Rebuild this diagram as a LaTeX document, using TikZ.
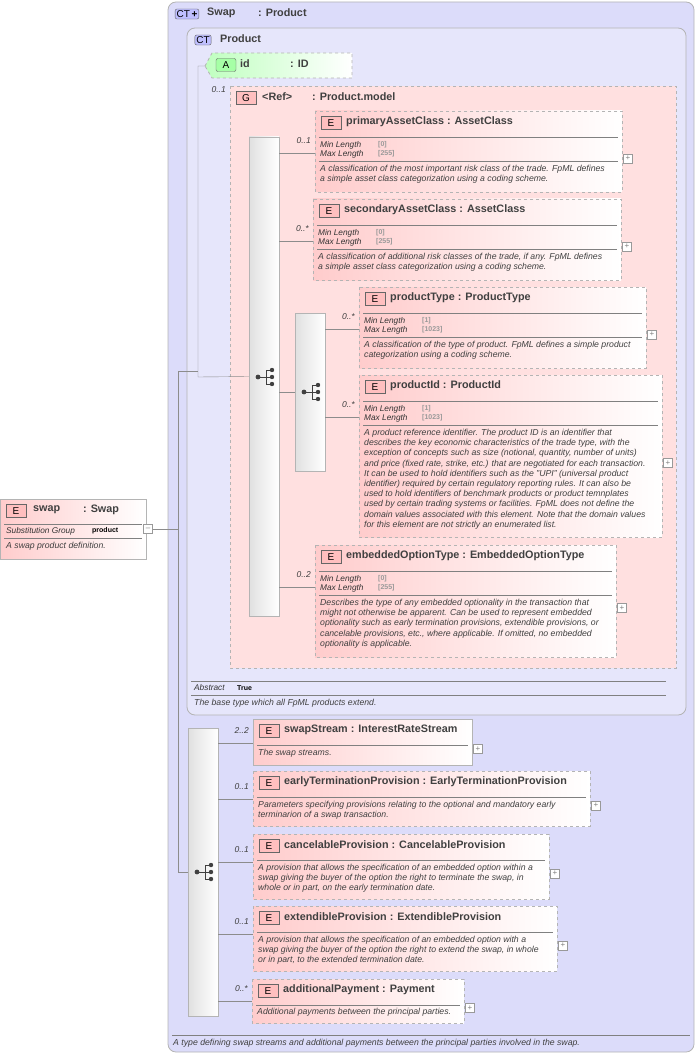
\documentclass[tikz,border=0pt]{standalone}
\usepackage{fontspec}
\setmainfont{Liberation Sans}
\usetikzlibrary{positioning,calc}

\definecolor{ctfill}{HTML}{DCDCFA}
\definecolor{grpfill}{HTML}{FFE0E0}
\definecolor{boxline}{HTML}{B4B4B4}
\definecolor{txtgrey}{HTML}{404040}

\tikzset{
  elem box/.style={draw=boxline,thick,left color=red!20,right color=white},
  badge/.style={draw=black!60,fill=red!25,minimum width=20pt,minimum height=13pt,
    inner sep=0pt,font=\fontsize{10}{10}\selectfont},
  title/.style={anchor=west,inner sep=0pt,font=\bfseries\fontsize{10.8}{11}\selectfont,text=txtgrey},
  prop/.style={anchor=west,inner sep=0pt,font=\itshape\fontsize{8.3}{9}\selectfont,text=black!80},
  val/.style={anchor=west,inner sep=0pt,font=\bfseries\fontsize{7}{7}\selectfont,text=black!40},
  desc/.style={anchor=north west,inner sep=0pt,align=left,
    font=\itshape\fontsize{8.7}{10.2}\selectfont,text=txtgrey},
  mult/.style={anchor=east,inner sep=0pt,font=\itshape\fontsize{8.5}{9}\selectfont,text=txtgrey},
  sep/.style={draw=black!50},
  conn/.style={draw=black!45},
  plus/.style={draw=black!40,fill=white,minimum size=9pt,inner sep=0pt,
    font=\fontsize{8}{8}\selectfont,text=black!50},
  seq bar/.style={draw=boxline,left color=black!12,right color=white,inner sep=0pt},
  ct badge/.style={draw=black!60,fill=blue!25,rounded corners=2pt,inner sep=1.5pt,
    font=\fontsize{10}{10}\selectfont},
}

% element box: name, left, top, right, bottom, title
\newcommand{\elem}[7][dashed]{
  \path[elem box,#1] (#3,#4) rectangle (#5,#6);
  \node[badge] (#2-e) at (#3+16,#4+12) {E};
  \node[title] (#2) at (#3+31,#4+11) {#7};
  \draw[sep] (#3+4,#4+26) -- (#5-4,#4+26);
  \node[plus] (#2-p) at (#5+6,{(#4+#6)/2+7}) {+};
  \coordinate (#2-in) at (#3,#4+42);
}
% min/max rows: left, top, min, max, right
\newcommand{\minmax}[5]{
  \node[prop] at (#1+5,#2+34) {Min Length};
  \node[val] at (#1+63,#2+34) {[#3]};
  \node[prop] at (#1+5,#2+43) {Max Length};
  \node[val] at (#1+63,#2+43) {[#4]};
  \draw[sep] (#1+4,#2+50) -- (#5-4,#2+50);
}
% sequence glyph
\newcommand{\seqicon}[1]{
  \fill[black!75] (#1) circle (2.4pt);
  \draw[black!75,thick] (#1) -- ++(8,0) ++(0,-7) -- ++(0,14)
    ++(0,-14) -- ++(6,0) ++(-6,7) -- ++(6,0) ++(-6,7) -- ++(6,0);
  \fill[black!75] ($(#1)+(14,-7)$) circle (2.2pt) ($(#1)+(14,0)$) circle (2.2pt)
    ($(#1)+(14,7)$) circle (2.2pt);
}

\begin{document}
\begin{tikzpicture}[x=1pt,y=-1pt]
  \useasboundingbox (0,0) rectangle (698,1059);

  % complex type Swap
  \path[draw=boxline,thick,fill=ctfill,rounded corners=8pt] (168,2) rectangle (694,1052);
  \node[ct badge] (swapct) at (187,14) {CT\,\textbf{+}};
  \node[title] (swapname) at (207,13) {Swap};
  \node[title] at (258,13) {: Product};
  \draw[sep] (172,1035) -- (690,1035);
  \node[desc] at (173,1039) {A type defining swap streams and additional payments between the principal parties involved in the swap.};

  % complex type Product
  \path[draw=boxline,thick,fill=ctfill!70!white,rounded corners=8pt] (187,28) rectangle (686,715);
  \node[ct badge] (prodct) at (203,40) {CT};
  \node[title] (prodname) at (220,39) {Product};
  \draw[sep] (191,681) -- (666,681);
  \node[prop] at (194,688) {Abstract};
  \node[val,text=black] at (237,688) {True};
  \draw[sep] (191,695) -- (666,695);
  \node[desc] at (194,699) {The base type which all FpML products extend.};

  % attribute id
  \path[draw=boxline,thick,dashed,left color=green!25,right color=white]
    (205,66) -- (212,53) -- (352,53) -- (352,78) -- (212,78) -- cycle;
  \node[badge,fill=green!35,rounded corners=2pt] (ida) at (226,65) {A};
  \node[title] (id) at (240,64) {id};
  \node[title] at (290,64) {: ID};

  % group Product.model
  \path[draw=boxline,thick,dashed,fill=grpfill] (230,86) rectangle (676,668);
  \node[badge] (grp) at (246,98) {G};
  \node[title] at (262,97) {<Ref>};
  \node[title] at (312,97) {: Product.model};
  \node[mult] at (226,90) {0..1};

  \node[seq bar,minimum width=30pt,minimum height=479pt] (seqA) at (264,376.5) {};
  \seqicon{258,377}
  \node[seq bar,minimum width=30pt,minimum height=158pt] (seqB) at (310,392) {};
  \seqicon{304,392}

  \elem{prim}{315}{111}{622}{192}{primaryAssetClass\ : AssetClass}
  \minmax{315}{111}{0}{255}{622}
  \node[desc] at (320,165) {A classification of the most important risk class of the trade. FpML defines\\a simple asset class categorization using a coding scheme.};

  \elem{sec}{313}{199}{621}{280}{secondaryAssetClass\ : AssetClass}
  \minmax{313}{199}{0}{255}{621}
  \node[desc] at (318,253) {A classification of additional risk classes of the trade, if any. FpML defines\\a simple asset class categorization using a coding scheme.};

  \elem{ptype}{359}{287}{646}{368}{productType\ : ProductType}
  \minmax{359}{287}{1}{1023}{646}
  \node[desc] at (364,341) {A classification of the type of product. FpML defines a simple product\\categorization using a coding scheme.};

  \elem{pid}{359}{375}{662}{537}{productId\ : ProductId}
  \minmax{359}{375}{1}{1023}{662}
  \node[desc] at (364,429) {A product reference identifier. The product ID is an identifier that\\describes the key economic characteristics of the trade type, with the\\exception of concepts such as size (notional, quantity, number of units)\\and price (fixed rate, strike, etc.) that are negotiated for each transaction.\\It can be used to hold identifiers such as the "UPI" (universal product\\identifier) required by certain regulatory reporting rules. It can also be\\used to hold identifiers of benchmark products or product temnplates\\used by certain trading systems or facilities. FpML does not define the\\domain values associated with this element. Note that the domain values\\for this element are not strictly an enumerated list.};

  \elem{emb}{315}{545}{616}{657}{embeddedOptionType\ : EmbeddedOptionType}
  \minmax{315}{545}{0}{255}{616}
  \node[desc] at (320,599) {Describes the type of any embedded optionality in the transaction that\\might not otherwise be apparent. Can be used to represent embedded\\optionality such as early termination provisions, extendible provisions, or\\cancelable provisions, etc., where applicable. If omitted, no embedded\\optionality is applicable.};

  % Swap sequence
  \node[seq bar,minimum width=30pt,minimum height=288pt] (seqC) at (203,872) {};
  \seqicon{197,872}

  \elem[solid]{stream}{253}{719}{472}{765}{swapStream\ : InterestRateStream}
  \node[desc] at (258,749) {The swap streams.};
  \elem{early}{253}{771}{590}{826}{earlyTerminationProvision\ : EarlyTerminationProvision}
  \node[desc] at (258,801) {Parameters specifying provisions relating to the optional and mandatory early\\terminarion of a swap transaction.};
  \elem{cancel}{253}{834}{549}{899}{cancelableProvision\ : CancelableProvision}
  \node[desc] at (258,864) {A provision that allows the specification of an embedded option within a\\swap giving the buyer of the option the right to terminate the swap, in\\whole or in part, on the early termination date.};
  \elem{extend}{253}{906}{557}{971}{extendibleProvision\ : ExtendibleProvision}
  \node[desc] at (258,936) {A provision that allows the specification of an embedded option with a\\swap giving the buyer of the option the right to extend the swap, in whole\\or in part, to the extended termination date.};
  \elem{addpay}{252}{979}{464}{1023}{additionalPayment\ : Payment}
  \node[desc] at (257,1008) {Additional payments between the principal parties.};

  % root element swap
  \path[draw=boxline,thick,left color=red!20,right color=white] (0,499) rectangle (146,559);
  \node[badge] (swap-e) at (16,511) {E};
  \node[title] (swap) at (33,510) {swap};
  \node[title] at (83,510) {: Swap};
  \draw[sep] (4,524) -- (142,524);
  \node[prop] at (6,531) {Substitution Group};
  \node[val,text=black] at (92,531) {product};
  \draw[sep] (4,538) -- (142,538);
  \node[desc] at (6,542) {A swap product definition.};
  \node[plus] (swap-p) at (148,529) {--};

  % connectors
  \draw[conn] (swap-p.east) -- (178,529);
  \draw[conn] (178,371) -- (178,872) -- (seqC.west);
  \draw[conn] (178,371) -- (198,371);
  \draw[conn] (205,66) -- (198,66) -- (198,377) -- (seqA.west);
  \foreach \e/\m in {prim/0..1,sec/0..*,emb/0..2} {
    \draw[conn] (seqA.east |- \e-in) -- (\e-in);
    \node[mult] at ($(\e-in)+(-4,-12)$) {\m};
  }
  \draw[conn] (seqA.east |- seqB) -- (seqB.west);
  \foreach \e/\m in {ptype/0..*,pid/0..*} {
    \draw[conn] (seqB.east |- \e-in) -- (\e-in);
    \node[mult] at ($(\e-in)+(-4,-12)$) {\m};
  }
  \foreach \e/\m/\d in {stream/2..2/18,early/0..1/14,cancel/0..1/14,extend/0..1/14,addpay/0..*/20} {
    \coordinate (c) at ($(\e-in)+(0,-\d)$);
    \draw[conn] (seqC.east |- c) -- (c);
    \node[mult] at ($(c)+(-4,-12)$) {\m};
  }
\end{tikzpicture}
\end{document}
